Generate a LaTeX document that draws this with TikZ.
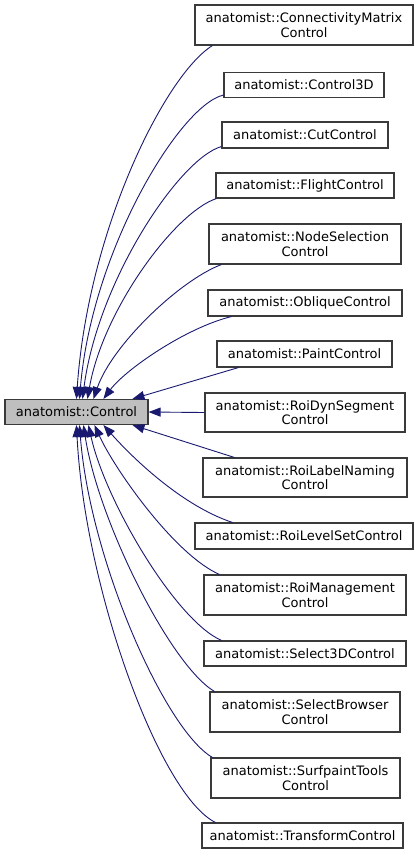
\documentclass[tikz,border=0pt]{standalone}
\usepackage{fontspec}
\setmainfont{DejaVu Sans}
\usetikzlibrary{arrows.meta}
\definecolor{edgeblue}{HTML}{191970}
\definecolor{boxline}{HTML}{3A3A3A}
\definecolor{basefill}{HTML}{BFBFBF}
\begin{document}
\begin{tikzpicture}[x=1pt,y=-1pt,
  cls/.style={draw=boxline,line width=1.1pt,fill=white,inner sep=0pt,align=center,
    font=\fontsize{13}{14.5}\selectfont,anchor=center},
  basecls/.style={cls,fill=basefill},
  inh/.style={draw=edgeblue,line width=0.9pt,-{Triangle[length=12pt,width=9pt]}}]
\useasboundingbox (0,0) rectangle (420,855);
\node[basecls,minimum width=143pt,minimum height=25pt] (base) at (76.5,412) {anatomist::Control};
\node[cls,minimum width=218pt,minimum height=40pt] (c1) at (304,25) {anatomist::ConnectivityMatrix\\Control};
\node[cls,minimum width=160pt,minimum height=25pt] (c2) at (304,85) {anatomist::Control3D};
\node[cls,minimum width=166pt,minimum height=26pt] (c3) at (305,135) {anatomist::CutControl};
\node[cls,minimum width=178pt,minimum height=25pt] (c4) at (305,185.5) {anatomist::FlightControl};
\node[cls,minimum width=192pt,minimum height=40pt] (c5) at (305,244) {anatomist::NodeSelection\\Control};
\node[cls,minimum width=194pt,minimum height=26pt] (c6) at (305,303) {anatomist::ObliqueControl};
\node[cls,minimum width=175pt,minimum height=26pt] (c7) at (304.5,354) {anatomist::PaintControl};
\node[cls,minimum width=200pt,minimum height=39pt] (c8) at (305,412.5) {anatomist::RoiDynSegment\\Control};
\node[cls,minimum width=204pt,minimum height=39pt] (c9) at (305,477.5) {anatomist::RoiLabelNaming\\Control};
\node[cls,minimum width=218pt,minimum height=26pt] (c10) at (304,536) {anatomist::RoiLevelSetControl};
\node[cls,minimum width=202pt,minimum height=40pt] (c11) at (305,595) {anatomist::RoiManagement\\Control};
\node[cls,minimum width=202pt,minimum height=25pt] (c12) at (305,653.5) {anatomist::Select3DControl};
\node[cls,minimum width=190pt,minimum height=40pt] (c13) at (305,712) {anatomist::SelectBrowser\\Control};
\node[cls,minimum width=189pt,minimum height=40pt] (c14) at (305.5,778) {anatomist::SurfpaintTools\\Control};
\node[cls,minimum width=201pt,minimum height=25pt] (c15) at (302.5,835.5) {anatomist::TransformControl};
% upper edges
\draw[inh] ([xshift=18pt]c1.south west) .. controls (165,75) and (88,230) .. ([xshift=72pt]base.north west);
\draw[inh] ([yshift=3pt]c2.south west) .. controls (180,105) and (92,250) .. ([xshift=75pt]base.north west);
\draw[inh] ([yshift=2pt]c3.south west) .. controls (180,158) and (98,280) .. ([xshift=78pt]base.north west);
\draw[inh] ([xshift=1pt]c4.south west) .. controls (175,212) and (103,310) .. ([xshift=83pt]base.north west);
\draw[inh] ([xshift=13pt]c5.south west) .. controls (180,280) and (112,345) .. ([xshift=89pt]base.north west);
\draw[inh] ([xshift=24pt]c6.south west) .. controls (185,328) and (125,370) .. ([xshift=99pt]base.north west);
\draw[inh] ([xshift=22pt]c7.south west) -- ([xshift=128pt]base.north west);
\draw[inh] (c8.west) -- (base.east);
% lower edges
\draw[inh] ([xshift=32pt]c9.north west) -- ([xshift=128pt]base.south west);
\draw[inh] ([xshift=38pt]c10.north west) .. controls (180,505) and (130,455) .. ([xshift=99pt]base.south west);
\draw[inh] ([xshift=16pt]c11.north west) .. controls (175,555) and (115,470) .. ([xshift=90pt]base.south west);
\draw[inh] ([xshift=18pt]c12.north west) .. controls (175,620) and (105,500) .. ([xshift=84pt]base.south west);
\draw[inh] ([xshift=5pt]c13.north west) .. controls (170,665) and (98,520) .. ([xshift=79pt]base.south west);
\draw[inh] ([xshift=2pt]c14.north west) .. controls (165,730) and (90,560) .. ([xshift=75pt]base.south west);
\draw[inh] ([xshift=14pt]c15.north west) .. controls (160,795) and (85,590) .. ([xshift=72pt]base.south west);
\end{tikzpicture}
\end{document}
